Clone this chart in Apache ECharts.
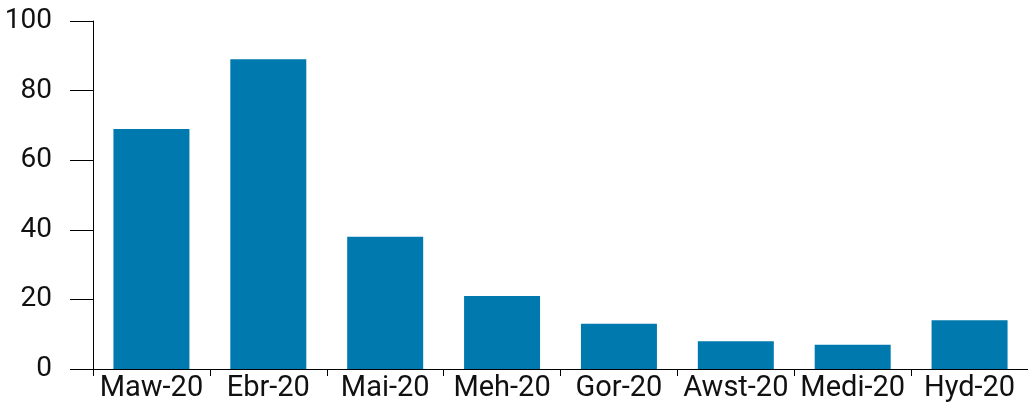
<!DOCTYPE html>
<html><head><meta charset="utf-8">
<script src="https://cdn.jsdelivr.net/npm/echarts@6/dist/echarts.min.js"></script>
<style>html,body{margin:0;padding:0;background:#fff}#c{width:1028px;height:405px}</style>
</head><body><div id="c"></div>
<script>
const categories = ["Maw-20","Ebr-20","Mai-20","Meh-20","Gor-20","Awst-20","Medi-20","Hyd-20"];
const values = [69, 89, 38, 21, 13, 8, 7, 14];
const yTicks = [0, 20, 40, 60, 80, 100];

const chart = echarts.init(document.getElementById('c'), null, {renderer:'canvas'});
const font = 'Roboto';
chart.setOption({
  animation: false,
  grid: {left: 93, right: -1, top: 21, bottom: 36, containLabel: false},
  xAxis: {
    type: 'category', data: categories,
    axisLine: {show: true, lineStyle: {color: '#000', width: 1}},
    axisTick: {show: true, length: 7, alignWithLabel: false, lineStyle: {color: '#000'}},
    axisLabel: {interval: 0, margin: 5, color: '#111', fontSize: 29, fontFamily: font}
  },
  yAxis: {
    type: 'value', min: yTicks[0], max: yTicks[yTicks.length-1], interval: 20,
    splitLine: {show: false},
    axisLine: {show: true, lineStyle: {color: '#000', width: 1}},
    axisTick: {show: true, length: 23, lineStyle: {color: '#000'}},
    axisLabel: {margin: 41, color: '#111', fontSize: 28, fontFamily: font}
  },
  series: [{
    type: 'bar', data: values, barWidth: 76,
    itemStyle: {color: '#007AAE'}
  }]
});
</script></body></html>
